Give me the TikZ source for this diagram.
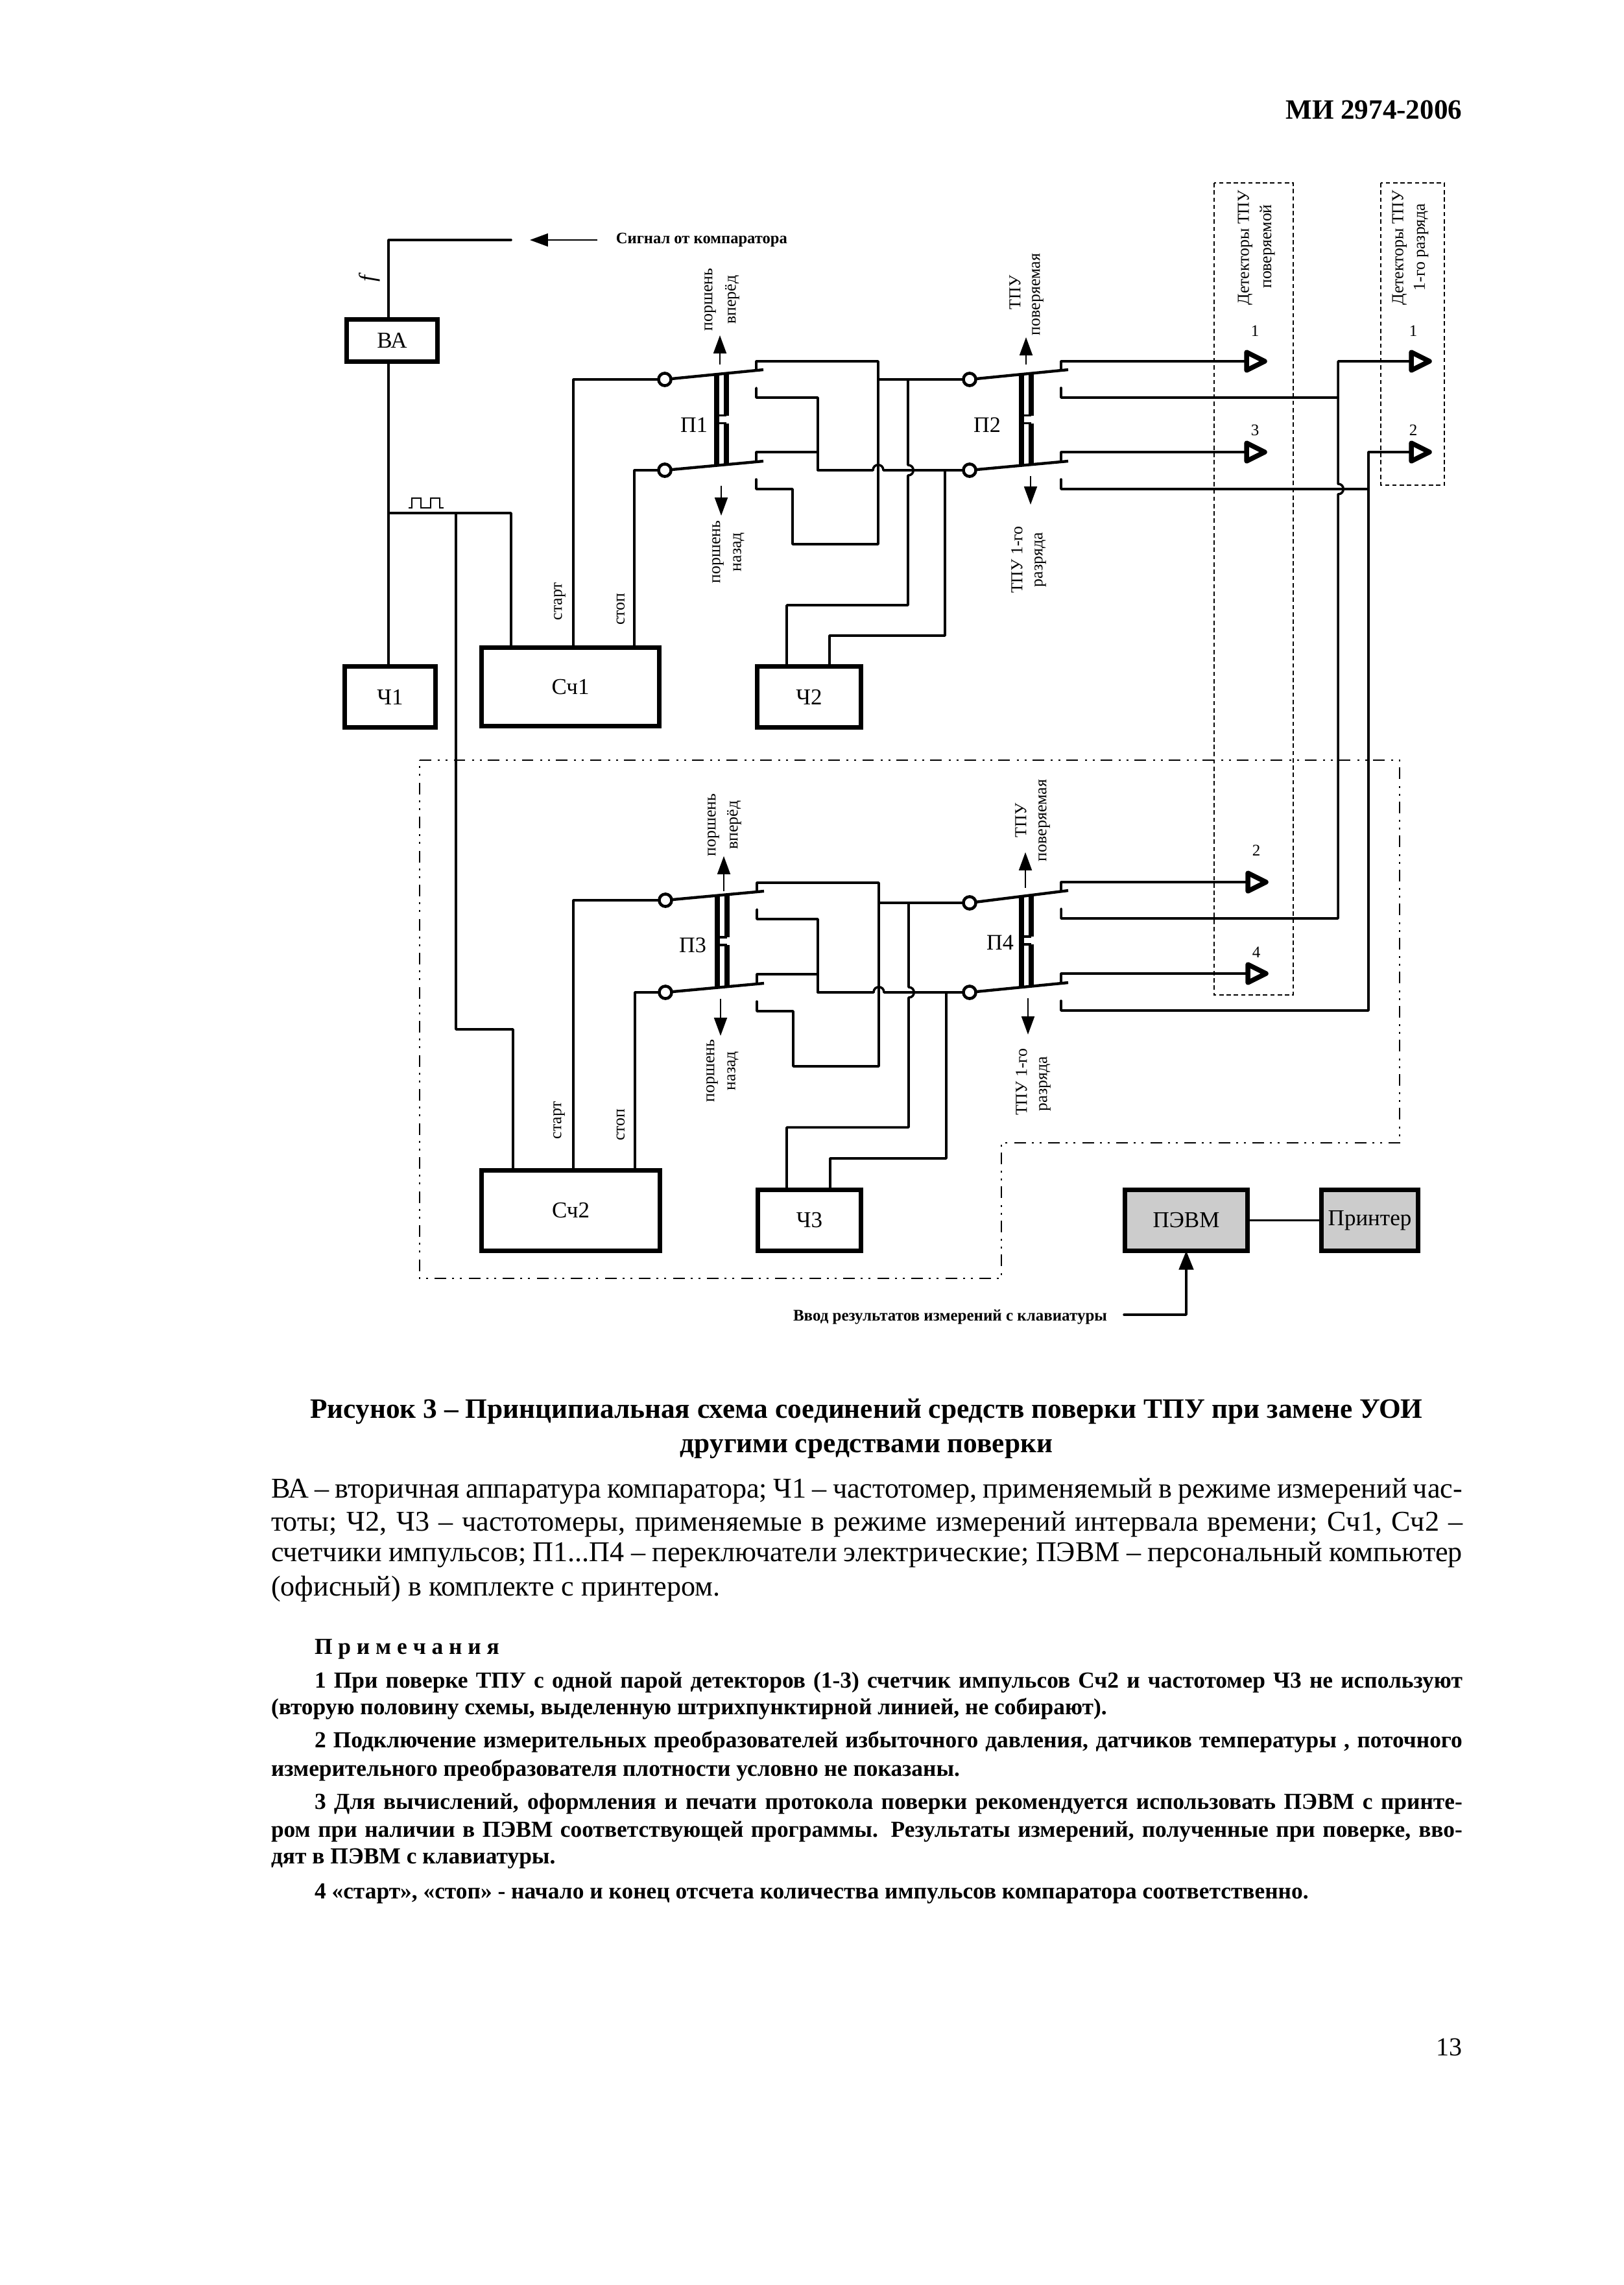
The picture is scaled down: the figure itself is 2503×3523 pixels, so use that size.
\documentclass[tikz,border=0pt]{standalone}
\usepackage{fontspec}
\setmainfont{Liberation Serif}
\usetikzlibrary{arrows.meta}
\newcommand\fsz[1]{\fontsize{#1}{#1}\selectfont}
\tikzset{
  sz/.style 2 args={minimum width=#1*0.24pt,minimum height=#2*0.24pt},
  blockbox/.style={draw,line width=1.5pt,inner sep=0pt,outer sep=0pt,font=\fsz{8.4}},
  greybox/.style={blockbox,fill=black!20},
  term/.style={draw,circle,line width=1.1pt,minimum size=4.6pt,inner sep=0pt,outer sep=0pt,fill=white},
  wire/.style={line width=0.85pt,line cap=round,line join=round},
  blade/.style={line width=1.05pt},
  bar/.style={line width=1.8pt},
  rung/.style={line width=0.9pt},
  thinw/.style={line width=0.4pt},
  ptr/.style={line width=0.45pt,-{Triangle[length=6.7pt,width=4.8pt]}},
  bigptr/.style={wire,-{Triangle[length=7pt,width=5.4pt]}},
  trig/.style={line width=1.8pt,line join=round,fill=white},
  detbox/.style={line width=0.32pt,dash pattern=on 1.6pt off 1.1pt},
  zone/.style={line width=0.7pt,dash pattern=on 4.3pt off 2.5pt on 0.7pt off 2.2pt on 0.7pt off 2.2pt},
  rot/.style={rotate=90,font=\fsz{6.2},inner sep=0pt,align=center},
  lbl/.style={font=\fsz{8.2},inner sep=0pt},
  num/.style={font=\fsz{6},inner sep=0pt},
  tline/.style={anchor=base west,inner sep=0pt,outer sep=0pt},
}
% switch pair: name, circle x, top circle y, top pivot y, lower circle y, lower pivot y
\newcommand\Sw[6]{%
  \node[term] (#1t) at (#2,#3) {};
  \node[term] (#1b) at (#2,#5) {};
  \coordinate (#1tp) at (#2+152,#4);
  \coordinate (#1bp) at (#2+152,#6);
  \draw[blade] (#1t) -- (#1tp);
  \draw[blade] (#1b) -- (#1bp);
  \coordinate (#1a0) at (#2+141,#4);
  \coordinate (#1a1) at (#2+141,#4-13);
  \coordinate (#1b0) at (#2+141,#4+28);
  \coordinate (#1b1) at (#2+141,#4+43);
  \coordinate (#1c0) at (#2+141,#6);
  \coordinate (#1c1) at (#2+141,#6-14);
  \coordinate (#1d0) at (#2+141,#6+28);
  \coordinate (#1d1) at (#2+141,#6+43);
  \coordinate (#1L1) at (#2+80,#4+8);
  \coordinate (#1L2) at (#2+80,#6+8);
  \coordinate (#1R1) at (#2+95,#4+6);
  \coordinate (#1R2) at (#2+95,#6+6);
  \coordinate (#1M) at (#2+87,{(#4+#6)/2+6});
  \draw[bar] (#1L1) -- (#1L2);
  \draw[bar] (#1R1) -- ([yshift=1.44pt]#1R1 |- #1M);
  \draw[bar] ([yshift=-1.44pt]#1R1 |- #1M) -- (#1R2);
  \draw[rung] ([yshift=1.44pt]#1L1 |- #1M) -- ([yshift=1.44pt]#1R1 |- #1M);
  \draw[rung] ([yshift=-1.44pt]#1L1 |- #1M) -- ([yshift=-1.44pt]#1R1 |- #1M);
}
% detector triangle: name, left x, mid y
\newcommand\Tri[3]{%
  \coordinate (#1) at (#2+3,#3);
  \coordinate (#1u) at (#2+3,#3-14);
  \coordinate (#1d) at (#2+3,#3+14);
  \coordinate (#1p) at (#2+31,#3);
  \draw[trig] (#1u) -- (#1d) -- (#1p) -- cycle;
}
\begin{document}
\begin{tikzpicture}[x=0.24pt,y=-0.24pt]
\useasboundingbox (0,0) rectangle (2503,3523);
% boxes
\node[blockbox,sz={140}{65}] (ba) at (604.5,525) {ВА};
\node[blockbox,sz={140}{94}] (ch1) at (601.5,1074.5) {Ч1};
\node[blockbox,sz={274}{121}] (sc1) at (879.5,1059) {Сч1};
\node[blockbox,sz={160}{94}] (ch2) at (1247.5,1074.5) {Ч2};
\node[blockbox,sz={275}{124}] (sc2) at (880,1866.5) {Сч2};
\node[blockbox,sz={159}{94}] (ch3) at (1248,1881.5) {Ч3};
\node[greybox,sz={189}{94}] (pc) at (1829,1881.5) {ПЭВМ};
\node[greybox,sz={149}{94}] (pr) at (2112,1881.5) {Принтер};
\draw[wire] (pc) -- (pr);
% input signal
\coordinate (sigend) at (788,370);
\coordinate (sigcorner) at (599,370);
\coordinate (sigtail) at (921,370);
\coordinate (sigtip) at (817,370);
\draw[wire] (sigend) -- (sigcorner) -- (sigcorner |- ba.north);
\draw[ptr] (sigtail) -- (sigtip);
\node[anchor=west,inner sep=0pt,font=\fsz{5.9}\bfseries] (sigtext) at (949,370) {Сигнал от компаратора};
\node[rotate=90,font=\fsz{8.5}\itshape,inner sep=0pt] (flabel) at (570,430) {f};
\draw[wire] (ba.south -| sigcorner) -- (ch1.north -| sigcorner);
% pulse bus
\coordinate (j1) at (599,791);
\coordinate (j2) at (788,791);
\coordinate (j3) at (703,791);
\coordinate (j4) at (703,1587);
\coordinate (j5) at (791,1587);
\draw[wire] (j1) -- (j2) -- (j2 |- sc1.north);
\draw[wire] (j3) -- (j4) -- (j5) -- (j5 |- sc2.north);
\draw[thinw] (630,783) -- (635,783) -- (635,768) -- (649,768) -- (649,783) -- (664,783) -- (664,768) -- (678,768) -- (678,783) -- (684,783);
% switches
\Sw{pa}{1025}{585}{570}{725}{711}
\Sw{pb}{1495}{585}{570}{725}{711}
\Sw{pc}{1026}{1388}{1374}{1530}{1516}
\Sw{pd}{1495}{1392}{1373}{1530}{1515}
\node[lbl] (l1) at (1070,655) {П1};
\node[lbl] (l2) at (1522,655) {П2};
\node[lbl] (l3) at (1068,1457) {П3};
\node[lbl] (l4) at (1542,1453) {П4};
% Sc1 start/stop
\coordinate (k1) at (884,585);
\coordinate (k2) at (978,725);
\draw[wire] (sc1.north -| k1) -- (k1) -- (pat);
\draw[wire] (sc1.north -| k2) -- (k2) -- (pab);
\node[rot] (st1) at (863,927) {старт};
\node[rot] (sp1) at (957,939) {стоп};
% Sc2 start/stop
\coordinate (k3) at (884,1388);
\coordinate (k4) at (979,1530);
\draw[wire] (sc2.north -| k3) -- (k3) -- (pct);
\draw[wire] (sc2.north -| k4) -- (k4) -- (pcb);
\node[rot] (st2) at (862,1727) {старт};
\node[rot] (sp2) at (957,1734) {стоп};
% P1 contacts
\draw[wire] (paa0) -- (paa1) -- (1354,557) -- (1354,839) -- (1222,839) -- (1222,754) -- (pad1) -- (pad0);
\draw[wire] (pab0) -- (pab1) -- (1261,613) -- (1261,725) -- (1346,725) .. controls (1346,714) and (1362,714) .. (1362,725) -- (pbb);
\draw[wire] (pac0) -- (pac1) -- (1261,697) -- (1261,725);
\draw[wire] (1354,585) -- (pbt);
\coordinate (ch2a) at (1213,933);
\coordinate (ch2b) at (1279,980);
\draw[wire] (1400,585) -- (1400,717) .. controls (1411,717) and (1411,733) .. (1400,733) -- (1400,933) -- (ch2a) -- (ch2a |- ch2.north);
\draw[wire] (1457,725) -- (1457,980) -- (ch2b) -- (ch2b |- ch2.north);
% P3 contacts
\draw[wire] (pca0) -- (pca1) -- (1355,1361) -- (1355,1644) -- (1223,1644) -- (1223,1559) -- (pcd1) -- (pcd0);
\draw[wire] (pcb0) -- (pcb1) -- (1261,1417) -- (1261,1530) -- (1347,1530) .. controls (1347,1519) and (1363,1519) .. (1363,1530) -- (pdb);
\draw[wire] (pcc0) -- (pcc1) -- (1261,1502) -- (1261,1530);
\draw[wire] (1355,1392) -- (pdt);
\coordinate (ch3a) at (1213,1738);
\coordinate (ch3b) at (1280,1786);
\draw[wire] (1401,1392) -- (1401,1522) .. controls (1412,1522) and (1412,1538) .. (1401,1538) -- (1401,1738) -- (ch3a) -- (ch3a |- ch3.north);
\draw[wire] (1459,1530) -- (1459,1786) -- (ch3b) -- (ch3b |- ch3.north);
% zone outline and detector frames
\coordinate (z1) at (647,1172);
\coordinate (z2) at (2158,1172);
\coordinate (z3) at (2158,1762);
\coordinate (z4) at (1544,1762);
\coordinate (z5) at (1544,1971);
\coordinate (z6) at (647,1971);
\draw[zone] (z1) -- (z2) -- (z3) -- (z4) -- (z5) -- (z6) -- cycle;
\draw[detbox] (1872,282) rectangle (1994,1534);
\draw[detbox] (2129,282) rectangle (2227,748);
% detectors
\Tri{tva}{1919}{557}
\Tri{tvc}{1919}{697}
\Tri{tvb}{1921}{1360}
\Tri{tvd}{1921}{1501}
\Tri{tra}{2173}{557}
\Tri{trb}{2173}{697}
\node[num] (n1) at (1935,510) {1};
\node[num] (n3) at (1935,663) {3};
\node[num] (n2) at (1937,1311) {2};
\node[num] (n4) at (1937,1468) {4};
\node[num] (r1) at (2179,510) {1};
\node[num] (r2) at (2179,663) {2};
\draw[wire] (pba0) -- (pba1) -- (tva);
\draw[wire] (pbc0) -- (pbc1) -- (tvc);
\draw[wire] (pda0) -- (pda1) -- (tvb);
\draw[wire] (pdc0) -- (pdc1) -- (tvd);
\coordinate (v1) at (2063,557);
\coordinate (v2) at (2110,697);
\draw[wire] (tra) -- (v1) -- (2063,746) .. controls (2074,746) and (2074,762) .. (2063,762) -- (2063,1416) -- (pdb1) -- (pdb0);
\draw[wire] (pbb0) -- (pbb1) -- (2063,613);
\draw[wire] (trb) -- (v2) -- (2110,1558) -- (pdd1) -- (pdd0);
\draw[wire] (pbd0) -- (pbd1) -- (2110,754);
% pointers
\draw[ptr] (1110,562) -- (1110,517);
\draw[ptr] (1112,749) -- (1112,795);
\draw[ptr] (1582,562) -- (1582,520);
\draw[ptr] (1589,734) -- (1589,778);
\draw[ptr] (1116,1374) -- (1116,1320);
\draw[ptr] (1111,1540) -- (1111,1597);
\draw[ptr] (1581,1369) -- (1581,1314);
\draw[ptr] (1585,1539) -- (1585,1595);
% rotated labels
\node[rot] (ra1) at (1095,462) {поршень};
\node[rot] (ra2) at (1129,462) {вперёд};
\node[rot] (ra3) at (1107,851) {поршень};
\node[rot] (ra4) at (1139,851) {назад};
\node[rot] (rb1) at (1565,451) {ТПУ};
\node[rot] (rb2) at (1600,454) {поверяемая};
\node[rot] (rb3) at (1568,863) {ТПУ 1-го};
\node[rot] (rb4) at (1604,863) {разряда};
\node[rot] (rc1) at (1100,1272) {поршень};
\node[rot] (rc2) at (1132,1272) {вперёд};
\node[rot] (rc3) at (1098,1651) {поршень};
\node[rot] (rc4) at (1130,1651) {назад};
\node[rot] (rd1) at (1574,1265) {ТПУ};
\node[rot] (rd2) at (1610,1265) {поверяемая};
\node[rot] (rd3) at (1575,1668) {ТПУ 1-го};
\node[rot] (rd4) at (1611,1671) {разряда};
\node[rot] (de1) at (1920,382) {Детекторы ТПУ};
\node[rot] (de2) at (1954,380) {поверяемой};
\node[rot] (de3) at (2158,382) {Детекторы ТПУ};
\node[rot] (de4) at (2191,381) {1-го разряда};
% keyboard input
\node[tline,font=\fsz{6}\bfseries] (kbd) at (1223,2036) {Ввод результатов измерений с клавиатуры};
\coordinate (kb1) at (1733,2027);
\coordinate (kb2) at (1829,2027);
\draw[bigptr] (kb1) -- (kb2) -- (kb2 |- pc.south);
% page text
\node[anchor=base east,inner sep=0pt,font=\fsz{10.35}\bfseries] (hdr) at (2255,183) {МИ 2974-2006};
\node[anchor=base east,inner sep=0pt,font=\fsz{9.6}] (pgn) at (2255,3169) {13};
\node[anchor=base,inner sep=0pt,font=\fsz{10.4}\bfseries] (cap1) at (1336,2186) {Рисунок 3 – Принципиальная схема соединений средств поверки ТПУ при замене УОИ};
\node[anchor=base,inner sep=0pt,font=\fsz{10.4}\bfseries] (cap2) at (1336,2239) {другими средствами поверки};
\begin{scope}[every node/.style={tline,font=\fsz{10.6}}]
\node (p1) at (418,2309) {\makebox[440.9pt][s]{ВА – вторичная аппаратура компаратора; Ч1 – частотомер, применяемый в режиме измерений час-}};
\node (p2) at (418,2360) {\makebox[440.9pt][s]{тоты; Ч2, Ч3 – частотомеры, применяемые в режиме измерений интервала времени; Сч1, Сч2 –}};
\node (p3) at (418,2407) {\makebox[440.9pt][s]{счетчики импульсов; П1...П4 – переключатели электрические; ПЭВМ – персональный компьютер}};
\node (p4) at (418,2460) {(офисный) в комплекте с принтером.};
\end{scope}
\begin{scope}[every node/.style={tline,font=\fsz{8.5}\bfseries}]
\node (nh) at (485,2550) {П р и м е ч а н и я};
\node (n1a) at (485,2602) {\makebox[424.8pt][s]{1 При поверке ТПУ с одной парой детекторов (1-3) счетчик импульсов Сч2 и частотомер Ч3 не используют}};
\node (n1b) at (418,2643) {(вторую половину схемы, выделенную штрихпунктирной линией, не собирают).};
\node (n2a) at (485,2694) {\makebox[424.8pt][s]{2 Подключение измерительных преобразователей избыточного давления, датчиков температуры , поточного}};
\node (n2b) at (418,2738) {измерительного преобразователя плотности условно не показаны.};
\node (n3a) at (485,2789) {\makebox[424.8pt][s]{3 Для вычислений, оформления и печати протокола поверки рекомендуется использовать ПЭВМ с принте-}};
\node (n3b) at (418,2832) {\makebox[440.9pt][s]{ром при наличии в ПЭВМ соответствующей программы. Результаты измерений, полученные при поверке, вво-}};
\node (n3c) at (418,2873) {дят в ПЭВМ с клавиатуры.};
\node (n4a) at (485,2927) {4 «старт», «стоп» - начало и конец отсчета количества импульсов компаратора соответственно.};
\end{scope}
\end{tikzpicture}
\end{document}
